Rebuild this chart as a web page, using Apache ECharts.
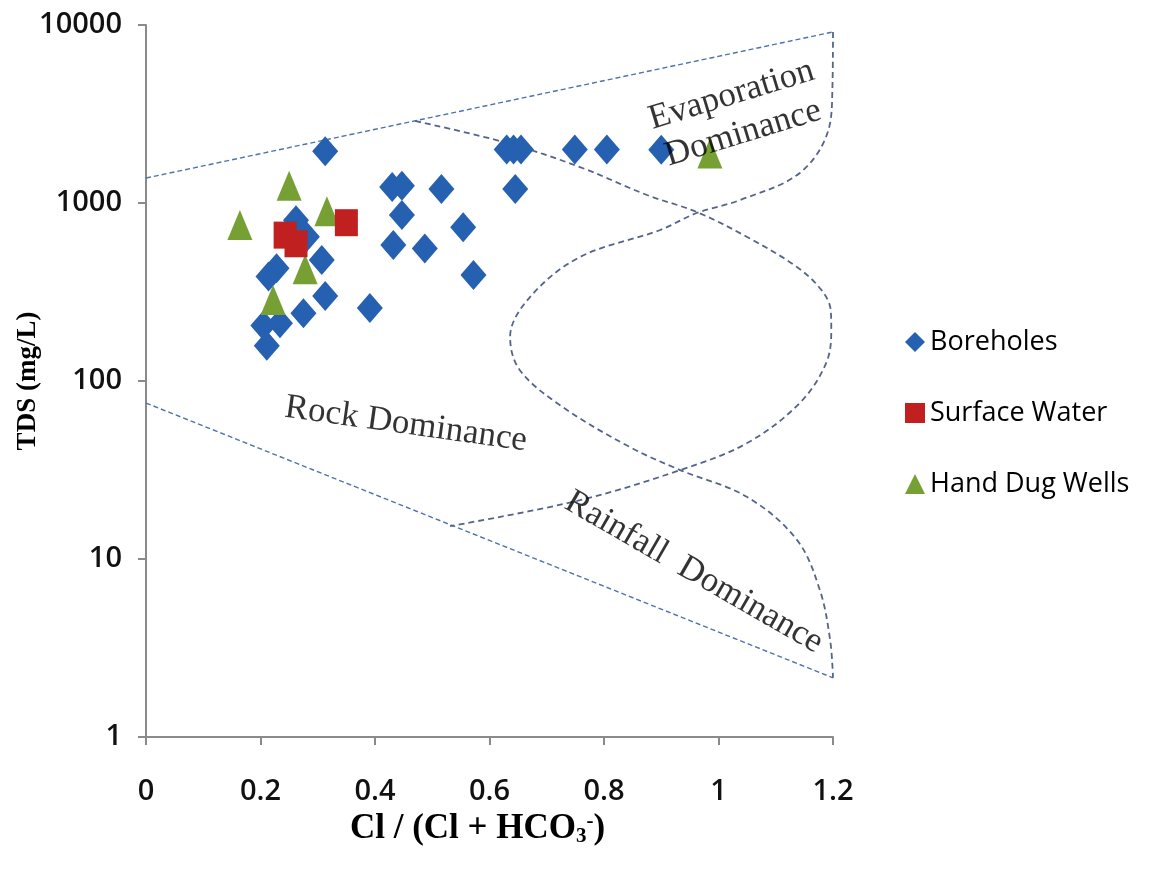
<!DOCTYPE html>
<html>
<head>
<meta charset="utf-8">
<script src="https://cdn.jsdelivr.net/npm/echarts@6/dist/echarts.min.js"></script>
<style>
  html, body { margin: 0; padding: 0; background: #fff; }
  #chart { width: 1150px; height: 870px; }
</style>
</head>
<body>
<div id="chart"></div>
<script>
// ---- Data ----
const boreholes = [
  [0.313, 1950], [0.430, 1230], [0.447, 1250], [0.516, 1200], [0.447, 857],
  [0.554, 730], [0.432, 580], [0.487, 555], [0.572, 394], [0.391, 257],
  [0.313, 300], [0.307, 478], [0.281, 646], [0.262, 800], [0.228, 430],
  [0.214, 387], [0.275, 240], [0.234, 211], [0.205, 205], [0.211, 158],
  [0.630, 2000], [0.642, 2000], [0.655, 2000], [0.749, 2000], [0.805, 2000],
  [0.900, 1990], [0.645, 1200]
];
const surfaceWater = [
  [0.243, 660], [0.262, 590], [0.350, 775]
];
const handDugWells = [
  [0.164, 752], [0.250, 1250], [0.316, 900], [0.278, 425], [0.222, 285], [0.985, 1900]
];

// Gibbs diagram boundaries (x = Cl/(Cl+HCO3), y = TDS mg/L)
const upperLine = [[0, 1381], [1.2, 9140]];
const lowerLine = [[0, 75.2], [1.2, 2.15]];
const boundaryA = [
  [0.470, 2890], [0.631, 2173], [0.758, 1592], [0.875, 1109], [0.962, 890],
  [1.050, 644], [1.137, 437], [1.180, 324], [1.196, 250], [1.197, 193],
  [1.188, 126], [1.142, 75.3], [1.050, 44.8], [0.933, 31.6], [0.758, 21.4],
  [0.531, 15.3]
];
const boundaryB = [
  [1.200, 9140], [1.199, 4485], [1.192, 2570], [1.142, 1475],
  [1.038, 1040], [0.962, 879], [0.898, 705], [0.758, 497], [0.671, 297],
  [0.636, 177], [0.653, 115], [0.728, 71.4], [0.845, 42.6], [0.933, 31.6],
  [1.050, 22.3], [1.137, 12.8], [1.177, 6.70], [1.195, 3.51], [1.200, 2.15]
];

// Region annotations: text, anchor (data coords), angle in degrees
const regionNames = ['Evaporation\nDominance', 'Rock Dominance', 'Rainfall  Dominance'];
const regionAnchors = [[1.033, 3150], [0.454, 57], [0.957, 8.4]];
const regionAngles = [17, -8, -30];

const xTicks = { min: 0, max: 1.2, interval: 0.2 };
const yTicks = { min: 1, max: 10000 };
const seriesNames = ['Boreholes', 'Surface Water', 'Hand Dug Wells'];

// ---- Chart ----
const chart = echarts.init(document.getElementById('chart'), null, { renderer: 'canvas' });

const curveStyle = { color: '#55658a', width: 1.8, type: [6, 4] };
const straightStyle = { color: '#4f73ad', width: 1.4, type: [5, 3] };

function lineSeries(name, data, style, smooth) {
  return {
    name: name, type: 'line', data: data, symbol: 'none', smooth: smooth,
    lineStyle: style, clip: false, silent: true, z: 1, animation: false
  };
}

const annotationData = regionNames.map((t, i) => ({
  value: regionAnchors[i],
  name: t,
  label: { rotate: regionAngles[i] }
}));

const option = {
  animation: false,
  backgroundColor: '#ffffff',
  grid: { left: 146, right: 317, top: 25, bottom: 133, containLabel: false, outerBoundsMode: 'none' },
  legend: {
    orient: 'vertical',
    left: 900, top: 322,
    itemWidth: 20, itemHeight: 20, itemGap: 41,
    textStyle: { fontFamily: 'Open Sans', fontSize: 27, color: '#000', lineHeight: 30 },
    data: [
      { name: seriesNames[0], icon: 'diamond' },
      { name: seriesNames[1], icon: 'rect' },
      { name: seriesNames[2], icon: 'triangle' }
    ]
  },
  xAxis: {
    type: 'value',
    min: xTicks.min, max: xTicks.max, interval: xTicks.interval,
    name: '{b|Cl / (Cl + HCO}{sub|3}{sup|-}{b|)}',
    nameLocation: 'middle', nameGap: 74, nameMoveOverlap: false,
    nameTextStyle: {
      padding: [0, 24, 0, 0],
      rich: {
        b: { fontFamily: 'Liberation Serif', fontWeight: 'bold', fontSize: 35, color: '#000' },
        sub: { fontFamily: 'Liberation Serif', fontWeight: 'bold', fontSize: 21, color: '#000', padding: [15, 0, 0, 0] },
        sup: { fontFamily: 'Liberation Serif', fontWeight: 'bold', fontSize: 21, color: '#000', padding: [0, 0, 15, 0] }
      }
    },
    axisLine: { show: true, lineStyle: { color: '#8a8a8a', width: 2 } },
    axisTick: { show: true, length: 8, lineStyle: { color: '#8a8a8a', width: 2 } },
    axisLabel: { fontFamily: 'Open Sans', fontWeight: 600, fontSize: 29, color: '#111', margin: 40 },
    splitLine: { show: false }
  },
  yAxis: {
    type: 'log', logBase: 10,
    min: yTicks.min, max: yTicks.max,
    name: 'TDS (mg/L)',
    nameLocation: 'middle', nameGap: 104, nameMoveOverlap: false,
    nameTextStyle: { fontFamily: 'Liberation Serif', fontWeight: 'bold', fontSize: 27, color: '#000' },
    axisLine: { show: true, lineStyle: { color: '#8a8a8a', width: 2 } },
    axisTick: { show: true, length: 8, lineStyle: { color: '#8a8a8a', width: 2 } },
    axisLabel: {
      fontFamily: 'Open Sans', fontWeight: 600, fontSize: 29, color: '#111', margin: 24,
      formatter: v => String(Math.round(v))
    },
    splitLine: { show: false },
    minorTick: { show: false }
  },
  series: [
    lineSeries('upper', upperLine, straightStyle, false),
    lineSeries('lower', lowerLine, straightStyle, false),
    lineSeries('boundaryA', boundaryA, curveStyle, 0.35),
    lineSeries('boundaryB', boundaryB, curveStyle, 0.35),
    {
      name: seriesNames[0], type: 'scatter', data: boreholes,
      symbol: 'diamond', symbolSize: [26, 30],
      itemStyle: { color: '#2660B0', opacity: 1 }, z: 3
    },
    {
      name: seriesNames[2], type: 'scatter', data: handDugWells,
      symbol: 'triangle', symbolSize: [25, 30],
      itemStyle: { color: '#77A034', opacity: 1 }, z: 4
    },
    {
      name: seriesNames[1], type: 'scatter', data: surfaceWater,
      symbol: 'rect', symbolSize: [23, 27],
      itemStyle: { color: '#C0201F', opacity: 1 }, z: 5
    },
    {
      name: 'regions', type: 'scatter', data: annotationData,
      symbolSize: 0, silent: true, z: 6,
      label: {
        show: true, position: 'inside',
        formatter: p => p.name,
        fontFamily: 'Liberation Serif', fontSize: 35, color: '#000',
        lineHeight: 40, align: 'center', verticalAlign: 'middle'
      }
    }
  ]
};
chart.setOption(option);
</script>
</body>
</html>
